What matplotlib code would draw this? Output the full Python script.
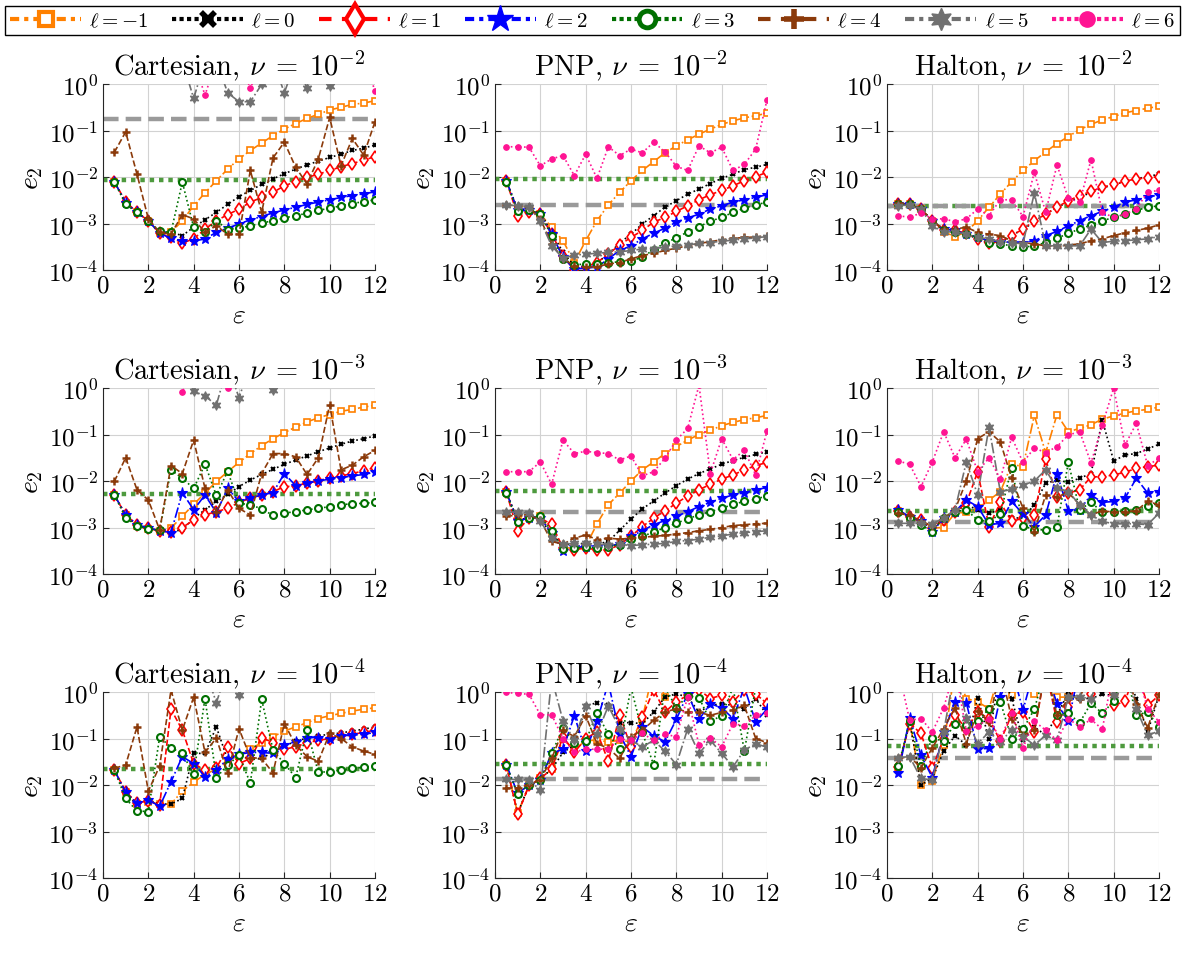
# Convergence of e2 vs shape parameter for three node sets and three viscosities

import numpy as np
from matplotlib import pyplot as plt
from matplotlib.lines import Line2D

plt.rcParams['font.family'] = 'serif'
plt.rcParams['font.serif'] = ['cmr10']
plt.rcParams['mathtext.fontset'] = 'cm'
plt.rcParams['axes.unicode_minus'] = False
plt.rcParams['axes.formatter.use_mathtext'] = True

# shape parameter values
eps = [0.5, 1.0, 1.5, 2.0, 2.5, 3.0, 3.5, 4.0, 4.5, 5.0, 5.5, 6.0,
       6.5, 7.0, 7.5, 8.0, 8.5, 9.0, 9.5, 10.0, 10.5, 11.0, 11.5, 12.0]

labels = [r'$\ell=-1$', r'$\ell=0$', r'$\ell=1$', r'$\ell=2$',
          r'$\ell=3$', r'$\ell=4$', r'$\ell=5$', r'$\ell=6$']

# log10(e2), rows are ell = -1..6 ; U = off the top of the plot
U = 0.5

cart_nu2 = [
    [-2.10,-2.55,-2.76,-2.94,-3.21,-3.19,-2.94,-2.62,-2.34,-2.08,-1.83,-1.61,-1.43,-1.27,-1.11,-0.97,-0.85,-0.74,-0.65,-0.56,-0.50,-0.44,-0.41,-0.36],
    [-2.10,-2.55,-2.76,-2.94,-3.21,-3.19,-3.26,-3.08,-2.92,-2.76,-2.59,-2.42,-2.29,-2.16,-2.04,-1.93,-1.83,-1.74,-1.66,-1.58,-1.51,-1.43,-1.38,-1.31],
    [-2.10,-2.53,-2.76,-2.94,-3.21,-3.30,-3.42,-3.33,-3.12,-2.94,-2.81,-2.69,-2.54,-2.44,-2.33,-2.19,-2.10,-2.01,-1.94,-1.86,-1.78,-1.71,-1.64,-1.56],
    [-2.10,-2.55,-2.76,-2.94,-3.21,-3.32,-3.38,-3.38,-3.33,-3.19,-3.10,-3.01,-2.92,-2.85,-2.77,-2.71,-2.65,-2.59,-2.54,-2.49,-2.44,-2.40,-2.36,-2.32],
    [-2.10,-2.59,-2.76,-2.94,-3.17,-3.19,-2.11,-3.08,-3.18,-2.94,-3.13,-3.10,-3.05,-2.99,-2.94,-2.88,-2.83,-2.78,-2.72,-2.67,-2.62,-2.57,-2.53,-2.49],
    [-1.47,-1.03,-1.94,-2.90,-3.19,-3.23,-2.81,-2.90,-3.19,-3.05,-3.23,-3.23,-1.86,-2.76,-1.59,-1.25,-1.79,-2.15,-1.61,-0.72,-1.76,-1.17,-1.53,-0.81],
    [U,U,U,U,U,U,U,-0.31,U,U,-0.19,-0.38,-0.38,-0.01,U,-0.19,U,-0.09,U,-0.04,U,U,U,U],
    [U,U,U,U,U,U,U,U,-0.24,U,U,U,-0.09,U,U,U,U,U,U,U,U,U,U,-0.14],
]
pnp_nu2 = [
    [-2.08,-2.72,-2.72,-2.80,-3.08,-3.37,-3.84,-3.37,-2.94,-2.60,-2.33,-2.08,-1.86,-1.67,-1.48,-1.33,-1.20,-1.08,-0.97,-0.87,-0.79,-0.73,-0.68,-0.63],
    [-2.08,-2.69,-2.72,-2.77,-3.19,-3.62,-3.91,-3.93,-3.84,-3.66,-3.42,-3.23,-3.01,-2.83,-2.65,-2.51,-2.37,-2.26,-2.14,-2.03,-1.94,-1.84,-1.79,-1.73],
    [-2.08,-2.83,-2.76,-2.80,-3.23,-3.69,-4.01,-3.93,-3.84,-3.66,-3.46,-3.30,-3.15,-2.97,-2.87,-2.74,-2.62,-2.49,-2.38,-2.29,-2.19,-2.08,-1.99,-1.90],
    [-2.08,-2.72,-2.72,-2.80,-3.23,-3.73,-3.98,-3.96,-3.94,-3.76,-3.58,-3.48,-3.33,-3.21,-3.10,-2.97,-2.88,-2.80,-2.69,-2.62,-2.54,-2.49,-2.44,-2.38],
    [-2.10,-2.74,-2.70,-2.80,-3.26,-3.76,-3.89,-3.87,-3.87,-3.85,-3.82,-3.80,-3.73,-3.56,-3.42,-3.31,-3.18,-3.07,-2.95,-2.87,-2.76,-2.67,-2.60,-2.54],
    [-2.60,-2.62,-2.65,-2.90,-3.44,-3.76,-3.91,-3.94,-3.93,-3.87,-3.84,-3.76,-3.69,-3.64,-3.58,-3.53,-3.48,-3.43,-3.39,-3.35,-3.32,-3.30,-3.29,-3.26],
    [-2.60,-2.62,-2.65,-2.94,-3.48,-3.75,-3.68,-3.66,-3.64,-3.62,-3.61,-3.58,-3.55,-3.54,-3.51,-3.48,-3.46,-3.43,-3.41,-3.38,-3.36,-3.33,-3.31,-3.28],
    [-1.35,-1.35,-1.36,-1.76,-1.61,-1.54,-1.97,-1.51,-2.03,-1.35,-1.54,-1.40,-1.48,-1.25,-1.46,-1.77,-1.86,-1.33,-1.48,-1.36,-1.86,-1.73,-1.40,-0.34],
]
halton_nu2 = [
    [-2.58,-2.58,-2.69,-2.94,-3.18,-3.28,-3.18,-2.94,-2.65,-2.37,-2.10,-1.86,-1.65,-1.46,-1.28,-1.13,-0.98,-0.87,-0.77,-0.70,-0.62,-0.57,-0.52,-0.48],
    [-2.58,-2.58,-2.69,-2.94,-3.15,-3.19,-3.23,-3.33,-3.44,-3.41,-3.26,-3.12,-2.97,-2.80,-2.65,-2.54,-2.44,-2.33,-2.24,-2.16,-2.10,-2.04,-1.99,-1.94],
    [-2.58,-2.58,-2.69,-2.94,-3.15,-3.15,-3.21,-3.33,-3.42,-3.39,-3.26,-3.12,-2.94,-2.80,-2.65,-2.51,-2.40,-2.31,-2.22,-2.16,-2.09,-2.04,-2.02,-1.99],
    [-2.58,-2.58,-2.69,-2.94,-3.12,-3.15,-3.23,-3.30,-3.37,-3.39,-3.41,-3.41,-3.37,-3.26,-3.17,-3.05,-2.94,-2.83,-2.74,-2.65,-2.54,-2.49,-2.44,-2.38],
    [-2.58,-2.58,-2.69,-2.94,-3.15,-3.19,-3.23,-3.30,-3.41,-3.44,-3.48,-3.51,-3.48,-3.41,-3.32,-3.21,-3.12,-3.03,-2.94,-2.87,-2.80,-2.72,-2.65,-2.62],
    [-2.56,-2.58,-2.69,-2.94,-3.12,-3.12,-3.08,-3.19,-3.23,-3.26,-3.37,-3.41,-3.44,-3.48,-3.48,-3.46,-3.44,-3.37,-3.33,-3.26,-3.20,-3.15,-3.10,-3.03],
    [-2.62,-2.60,-2.69,-3.05,-3.18,-3.18,-3.23,-3.30,-3.33,-3.39,-3.41,-3.44,-2.34,-3.48,-3.48,-3.48,-3.48,-3.12,-3.41,-3.38,-3.37,-3.35,-3.33,-3.28],
    [-2.83,-2.87,-2.77,-2.90,-2.90,-2.96,-2.90,-2.69,-2.83,-2.49,-2.49,-2.85,-1.90,-2.76,-1.74,-2.46,-2.54,-1.63,-2.76,-2.87,-2.80,-2.69,-2.32,-2.29],
]
cart_nu3 = [
    [-2.30,-2.73,-2.96,-3.03,-3.07,-3.01,-2.76,-2.50,-2.26,-2.01,-1.80,-1.60,-1.41,-1.24,-1.09,-0.96,-0.84,-0.73,-0.64,-0.57,-0.50,-0.46,-0.41,-0.37],
    [-2.30,-2.73,-2.96,-3.03,-3.07,-3.09,-3.05,-2.80,-2.62,-2.44,-2.29,-2.12,-1.98,-1.86,-1.75,-1.64,-1.55,-1.46,-1.37,-1.29,-1.21,-1.14,-1.09,-1.03],
    [-2.30,-2.73,-2.94,-3.01,-3.07,-3.09,-3.00,-2.84,-2.73,-2.66,-2.59,-2.46,-2.37,-2.30,-2.23,-2.12,-2.11,-2.04,-1.99,-1.94,-1.89,-1.84,-1.78,-1.71],
    [-2.30,-2.73,-2.94,-3.01,-3.07,-3.11,-2.25,-2.62,-2.30,-2.68,-2.16,-2.44,-2.37,-2.30,-2.25,-1.84,-2.10,-2.05,-2.00,-1.96,-1.93,-1.89,-1.86,-1.81],
    [-2.30,-2.79,-2.96,-3.03,-3.06,-1.76,-1.94,-2.16,-1.64,-2.31,-1.79,-2.48,-2.51,-2.60,-2.74,-2.69,-2.66,-2.62,-2.59,-2.55,-2.51,-2.49,-2.48,-2.46],
    [-2.01,-1.50,-2.19,-2.41,-3.05,-1.67,-1.84,-1.12,-2.16,-2.66,-2.19,-2.59,-2.73,-1.84,-1.41,-1.41,-1.48,-1.86,-1.50,-0.36,-1.76,-1.66,-1.48,-1.34],
    [U,U,U,U,U,U,U,-0.07,-0.17,-0.37,U,-0.21,U,U,-0.04,U,U,U,U,U,U,U,U,U],
    [U,U,U,U,U,U,-0.09,U,U,U,-0.01,U,U,U,U,U,U,U,U,U,U,U,U,U],
]
pnp_nu3 = [
    [-2.24,-2.84,-2.79,-2.76,-3.12,-3.44,-3.44,-3.41,-2.92,-2.51,-2.26,-2.00,-1.76,-1.59,-1.41,-1.26,-1.12,-1.00,-0.91,-0.81,-0.74,-0.68,-0.64,-0.59],
    [-2.24,-2.84,-2.79,-2.80,-3.16,-3.37,-3.36,-3.34,-3.36,-3.30,-3.06,-2.82,-2.60,-2.43,-2.26,-2.10,-1.96,-1.84,-1.74,-1.64,-1.56,-1.49,-1.43,-1.37],
    [-2.24,-3.07,-2.79,-2.80,-2.93,-3.44,-3.48,-3.44,-3.48,-3.48,-3.37,-3.19,-2.98,-2.80,-2.64,-2.48,-2.32,-2.19,-2.07,-1.96,-1.87,-1.76,-1.67,-1.60],
    [-2.24,-2.87,-2.79,-2.80,-3.12,-3.50,-3.43,-3.41,-3.43,-3.39,-3.36,-3.19,-3.07,-2.94,-2.85,-2.76,-2.66,-2.55,-2.46,-2.37,-2.30,-2.25,-2.19,-2.14],
    [-2.26,-2.89,-2.80,-2.76,-3.07,-3.46,-3.44,-3.43,-3.44,-3.41,-3.37,-3.25,-3.19,-3.10,-3.00,-2.91,-2.81,-2.73,-2.66,-2.59,-2.50,-2.44,-2.39,-2.32],
    [-2.76,-2.73,-2.73,-2.84,-3.30,-3.36,-3.23,-3.16,-3.26,-3.23,-3.25,-3.23,-3.21,-3.19,-3.17,-3.14,-3.11,-3.07,-3.04,-3.00,-2.96,-2.94,-2.92,-2.91],
    [-2.67,-2.67,-2.69,-2.87,-3.23,-3.36,-3.34,-3.34,-3.36,-3.37,-3.36,-3.39,-3.37,-3.36,-3.34,-3.30,-3.28,-3.25,-3.21,-3.18,-3.14,-3.11,-3.09,-3.07],
    [-1.80,-1.80,-1.80,-1.59,-2.07,-1.12,-1.41,-1.36,-1.39,-1.41,-1.55,-1.46,-1.89,-1.80,-1.51,-1.12,-0.87,0.06,-1.84,-1.09,-1.54,-1.34,-1.87,-0.92],
]
halton_nu3 = [
    [-2.64,-2.79,-2.87,-3.01,-3.00,-2.69,-2.67,-2.59,-2.41,-2.23,-1.64,-1.69,-0.59,-1.39,-0.57,-0.94,-0.87,-0.79,-0.67,-0.60,-0.54,-0.49,-0.46,-0.41],
    [-2.64,-2.77,-2.84,-3.05,-2.80,-2.66,-2.51,-2.62,-2.69,-2.62,-2.79,-2.80,-2.51,-2.05,-1.98,-2.03,-1.94,-1.84,-0.69,-1.57,-1.44,-1.41,-1.31,-1.21],
    [-2.64,-2.77,-2.84,-3.01,-2.84,-2.66,-2.48,-1.80,-2.98,-2.46,-2.87,-2.80,-2.73,-1.53,-2.34,-2.26,-2.19,-1.91,-1.91,-1.87,-1.81,-1.73,-1.69,-1.66],
    [-2.62,-2.77,-2.86,-3.09,-2.80,-2.66,-2.41,-2.55,-2.94,-2.91,-2.44,-2.71,-2.98,-2.73,-1.84,-2.64,-2.62,-2.30,-2.46,-2.44,-2.37,-1.94,-2.26,-2.24],
    [-2.66,-2.79,-2.94,-3.09,-2.79,-2.66,-2.62,-2.84,-2.87,-2.71,-1.71,-2.96,-3.05,-3.05,-2.98,-1.60,-2.62,-2.46,-2.67,-2.66,-2.64,-2.62,-2.54,-2.48],
    [-2.69,-2.73,-2.87,-2.96,-2.80,-2.62,-2.00,-1.09,-0.94,-1.16,-1.94,-2.59,-3.09,-2.30,-2.34,-2.25,-2.51,-2.73,-2.64,-2.67,-2.66,-2.64,-2.44,-2.51],
    [-2.91,-2.91,-2.91,-2.92,-2.80,-2.62,-1.59,-2.30,-0.84,-2.23,-2.18,-2.09,-2.00,-1.76,-2.16,-2.23,-2.51,-2.73,-2.87,-2.92,-2.92,-2.92,-2.94,-2.69],
    [-1.57,-1.64,-2.12,-1.59,-0.94,-1.50,-1.10,-1.80,-1.50,-1.96,-1.06,-1.60,-1.29,-1.39,-1.26,-1.01,-0.94,-1.61,-0.80,0.00,-1.23,-0.76,-1.67,-1.51],
]
cart_nu4 = [
    [-1.68,-2.14,-2.41,-2.36,-2.41,-2.41,-2.13,-1.94,-1.77,-1.66,-1.50,-1.37,-1.23,-1.09,-0.96,-0.84,-0.75,-0.66,-0.57,-0.51,-0.46,-0.41,-0.37,-0.34],
    [-1.68,-2.18,-2.41,-2.32,-2.41,-2.41,-2.29,-1.32,-1.32,-0.75,-1.46,-1.36,-1.45,-1.43,-1.29,-1.16,-1.06,-0.99,-0.94,-0.91,-0.88,-0.84,-0.80,-0.75],
    [-1.68,-2.14,-2.39,-2.34,-2.43,-0.37,-0.82,-1.54,-1.68,-1.64,-1.18,-1.54,-1.43,-0.98,-1.09,-1.23,-1.18,-1.09,-1.04,-1.00,-0.94,-0.91,-0.87,-0.82],
    [-1.68,-2.16,-2.39,-2.32,-2.46,-1.93,-1.39,-1.54,-1.82,-1.68,-1.44,-1.34,-1.30,-1.30,-1.32,-1.14,-1.07,-0.98,-0.98,-1.01,-0.94,-0.93,-0.91,-0.87],
    [-1.68,-2.29,-2.56,-2.57,-0.96,-1.20,-1.32,-1.77,-0.14,-1.84,-1.57,-1.36,-1.96,-0.16,-1.25,-1.54,-1.84,-0.81,-1.73,-1.71,-1.68,-1.64,-1.62,-1.59],
    [-1.64,-1.57,-0.75,-2.13,-1.59,0.04,-0.82,-0.11,-1.30,-0.99,-1.74,-0.79,-1.41,-1.43,-1.74,-0.68,-1.14,-1.39,-1.49,-0.89,-1.00,-1.18,-1.27,-1.34],
    [U,U,U,U,U,U,U,U,U,-0.23,U,-0.07,U,U,U,U,U,U,U,U,U,U,U,U],
    [U,U,U,U,U,U,U,U,U,U,U,U,U,U,U,U,U,U,U,U,U,U,U,U],
]
pnp_nu4 = [
    [-1.56,-2.61,-2.00,-1.86,-1.66,-1.00,-1.25,-1.04,-1.04,-1.07,-1.04,-1.07,-0.57,U,-0.10,U,-0.05,U,U,U,U,U,U,U],
    [-1.56,-2.61,-2.01,-1.86,-1.66,-1.30,-1.14,-0.30,-0.23,-0.29,-0.66,-0.66,-0.68,-0.43,-0.11,-0.04,-0.11,-0.43,-0.29,-0.25,-0.29,-0.36,-0.14,-0.50],
    [-1.56,-2.63,-2.01,-1.86,-1.66,-0.96,-1.30,-1.00,-0.86,-1.49,-0.50,-1.18,-0.54,0.05,-0.43,-0.21,-0.07,0.05,-0.14,-0.07,-0.21,0.05,-0.04,-0.25],
    [-1.56,-2.18,-2.00,-1.89,-1.32,-1.23,-0.51,-1.27,-0.63,0.20,-0.90,-1.39,-0.75,-0.94,-1.07,-0.59,-0.04,-0.59,-0.25,-0.34,-0.57,0.10,-0.64,-0.37],
    [-1.57,-2.20,-1.99,-1.89,-1.32,-0.77,-1.10,-1.06,-0.45,-0.91,-1.23,0.10,-0.87,-1.57,0.10,-0.34,-0.08,-0.12,-0.63,-0.51,0.10,-1.27,0.10,0.10],
    [-2.07,-2.06,-2.00,-1.89,-1.43,-0.82,-0.96,-0.51,-1.11,-1.21,-1.43,-0.96,-0.82,-0.61,-0.43,-0.36,-0.43,-0.44,-0.50,-0.44,-0.39,-0.29,-1.00,-1.09],
    [-1.88,-1.88,-1.89,-2.11,0.30,-0.62,-1.04,-0.30,-0.90,-0.30,-0.79,-1.04,-1.18,-1.04,-1.27,-1.56,-0.79,-1.32,-1.04,-1.32,-1.61,-1.25,-1.11,-1.19],
    [-0.01,-0.03,-0.05,-0.49,-0.49,-1.00,-1.29,-1.23,-1.23,-1.23,-1.01,-1.04,-0.89,-1.04,-0.91,-0.96,-0.11,-1.14,-0.99,-1.18,-0.68,-0.73,-0.50,-0.45],
]
halton_nu4 = [
    [-1.64,-0.64,-1.99,-1.91,-1.14,U,-0.14,-0.21,-0.36,U,-0.07,U,-0.04,U,-0.11,-0.11,U,U,U,U,U,U,U,U],
    [-1.64,-0.64,-1.99,-1.86,-1.27,-0.94,-1.14,-0.12,-1.01,U,-0.14,-1.04,-0.75,-0.93,-0.50,-0.01,-0.14,-0.14,-0.05,-0.07,U,-0.14,-0.86,-0.07],
    [-1.61,-0.68,-0.89,-1.64,-1.00,-0.50,-0.79,-0.43,-0.57,-1.06,-0.49,-0.43,-0.86,U,-0.64,-0.32,U,-0.04,U,-0.29,-0.20,U,-0.29,-0.07],
    [-1.75,-0.56,-1.36,-1.84,-0.86,-0.21,-0.23,-1.23,-1.21,-0.11,U,-0.39,U,U,-0.25,-0.63,U,U,U,U,U,U,U,U],
    [-1.59,-0.63,-1.59,-0.99,-1.06,-0.68,-0.71,-0.63,-0.36,-0.21,-1.00,-0.80,-0.37,U,-0.50,-0.46,-0.66,-0.24,-0.46,-0.20,U,-0.50,-0.43,-0.75],
    [-1.43,-1.39,-1.63,-1.20,-0.79,-0.34,-1.11,-0.41,-0.64,U,-0.57,-0.93,-0.82,U,-0.50,-0.14,-0.14,U,U,-0.04,U,-0.25,-0.77,-0.04],
    [-1.41,-1.39,-1.86,-1.89,-0.86,U,-0.56,-1.11,-0.86,-1.07,-0.82,-0.96,-1.14,-0.93,-1.04,-0.11,-0.11,-0.14,U,-0.06,U,-0.36,-0.93,-0.84],
    [U,-0.61,-0.57,-0.86,-0.34,U,-0.84,-0.73,-0.57,-1.01,-0.45,-1.20,-0.63,-0.82,-1.04,-0.57,-0.75,-0.59,-0.80,U,U,U,-0.36,-0.64],
]

# reference levels (log10 e2): green dotted and gray dashed lines, None = not shown
ref_green = [-2.07, -2.04, -2.62, -2.29, -2.21, -2.64, -1.66, -1.54, -1.16]
ref_gray = [-0.75, -2.60, -2.63, None, -2.67, -2.89, None, -1.88, -1.41]

panels = [cart_nu2, pnp_nu2, halton_nu2,
          cart_nu3, pnp_nu3, halton_nu3,
          cart_nu4, pnp_nu4, halton_nu4]
node_sets = ['Cartesian', 'PNP', 'Halton']
nu_exp = [-2, -3, -4]

colors = ['#FF8000', 'black', 'red', 'blue', '#007000', '#8B3A0A', '#707070', '#FF1493']
lstyles = ['-.', ':', '--', '-.', ':', '--', '-.', ':']
markers = ['s', 'x', 'd', '*', 'o', '+', (6, 1, 0), 'o']
msizes = [4, 3.5, 6, 8, 5, 6, 7, 4]
mews = [1.2, 1.5, 1.2, 0.8, 1.5, 1.8, 0.8, 0.8]
mfcs = ['white', None, 'white', None, 'white', None, None, None]

# legend line patterns (in units of line width)
leg_dashes = [(0, (2.2, 1.2, 1, 1.2)), (0, (1, 0.8)), (0, (3, 2.5)), (0, (2.2, 1.2, 1, 1.2)),
              (0, (1, 0.8)), (0, (3, 2.5)), (0, (2.2, 1.2, 1, 1.2)), (0, (1, 0.8))]

W, H = 1184, 954
fig = plt.figure(figsize=(W/100, H/100), dpi=100)

col_left = [103, 495, 887]
row_top = [85, 389, 693]
aw, ah = 272, 186

for k in range(9):
    r, c = k // 3, k % 3
    ax = fig.add_axes([col_left[c]/W, 1 - (row_top[r] + ah)/H, aw/W, ah/H])
    if ref_green[k] is not None:
        ax.axhline(10.0**ref_green[k], color='#4E9A3E', lw=3.2, ls=(0, (1, 1.1)), zorder=1)
    if ref_gray[k] is not None:
        ax.axhline(10.0**ref_gray[k], color='#9A9A9A', lw=3.2, ls=(0, (3.5, 1.6)), zorder=1)
    data = panels[k]
    for i in range(8):
        y = 10.0**np.array(data[i])
        mfc = mfcs[i] if mfcs[i] is not None else colors[i]
        ax.plot(eps, y, color=colors[i], ls=lstyles[i], lw=1.2, marker=markers[i],
                ms=msizes[i], mew=mews[i], mfc=mfc, mec=colors[i], zorder=2+i)
    ax.set_yscale('log')
    ax.set_ylim(1e-4, 1)
    ax.set_xlim(0, 12)
    ax.set_xticks([0, 2, 4, 6, 8, 10, 12])
    ax.set_yticks([1e-4, 1e-3, 1e-2, 1e-1, 1])
    ax.grid(True, which='major', color='#d2d2d2', lw=0.8)
    ax.grid(True, which='minor', axis='y', color='#d2d2d2', ls=':', lw=0.8)
    ax.set_axisbelow(True)
    for s in ['top', 'right']:
        ax.spines[s].set_visible(False)
    ax.spines['left'].set_color('#262626')
    ax.spines['bottom'].set_color('#262626')
    ax.tick_params(which='both', direction='in', labelsize=18, color='#262626')
    ax.tick_params(which='major', length=4)
    ax.tick_params(which='minor', length=2)
    ax.set_title(node_sets[c] + r', $\nu\;=\;10^{%d}$' % nu_exp[r], fontsize=20.5, pad=6)
    ax.set_xlabel(r'$\varepsilon$', fontsize=20, labelpad=3)
    ax.set_ylabel(r'$e_2$', fontsize=20, labelpad=2)

# legend with enlarged markers
leg_ms = [10, 10, 15, 20, 12, 14, 16, 11]
leg_mew = [3, 4, 3, 1, 3.5, 4, 1, 1]
handles = []
for i in range(8):
    mfc = mfcs[i] if mfcs[i] is not None else colors[i]
    handles.append(Line2D([], [], color=colors[i], ls=leg_dashes[i], lw=3, marker=markers[i],
                          ms=leg_ms[i], mew=leg_mew[i], mfc=mfc, mec=colors[i]))
fig.legend(handles, labels, loc='lower left', mode='expand', ncol=8,
           bbox_to_anchor=(5/W, 1 - 36/H, 1175/W, 33/H), fontsize=15,
           frameon=True, fancybox=False, edgecolor='black', framealpha=1,
           handlelength=3.4, handletextpad=0.4, columnspacing=0.6,
           borderpad=0.25, borderaxespad=0.0)

plt.savefig('out.png', dpi=100)
